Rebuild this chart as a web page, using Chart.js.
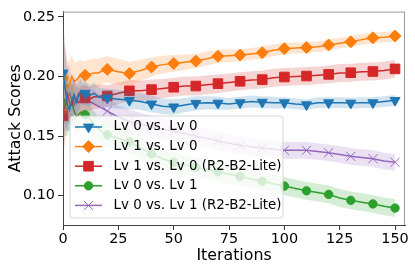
<!DOCTYPE html>
<html>
<head>
<meta charset="utf-8">
<script src="https://cdn.jsdelivr.net/npm/chart.js@4/dist/chart.umd.min.js"></script>
<style>
  body { margin: 0; background: #fff; }
  #box { width: 415px; height: 268px; }
</style>
</head>
<body>
<div id="box"><canvas id="myChart"></canvas></div>
<script>
let iterations = [0,1,2,3,4,5,6,7,8,9,10, 12,14,16,18,20,
  25,30,35,40,45,50,55,60,65,70,75,80,85,90,95,100,105,110,115,120,125,130,135,140,145,150];

let lv00 = [0.203,0.190,0.176,0.172,0.180,0.185,0.178,0.183,0.188,0.186,0.186,
  0.184,0.186,0.183,0.182,0.182,
  0.181,0.180,0.179,0.177,0.175,0.1745,0.176,0.1775,0.178,0.1777,0.177,0.178,0.179,0.1785,0.178,0.178,0.177,0.1763,0.178,0.178,0.178,0.1777,0.178,0.178,0.179,0.180];
let lv10 = [0.199,0.196,0.190,0.194,0.200,0.196,0.197,0.199,0.201,0.200,0.201,
  0.202,0.203,0.203,0.205,0.206,
  0.204,0.2025,0.205,0.208,0.210,0.211,0.212,0.213,0.215,0.217,0.2175,0.218,0.219,0.220,0.222,0.2234,0.224,0.2243,0.225,0.2265,0.228,0.2292,0.231,0.2325,0.233,0.234];
let lv10lite = [0.167,0.175,0.185,0.178,0.176,0.183,0.180,0.178,0.180,0.182,0.182,
  0.181,0.183,0.183,0.184,0.1837,
  0.186,0.188,0.188,0.189,0.190,0.191,0.192,0.192,0.193,0.194,0.195,0.196,0.197,0.1974,0.199,0.1996,0.200,0.2004,0.201,0.2018,0.203,0.2032,0.204,0.2042,0.205,0.2064];
let lv01 = [0.178,0.175,0.172,0.176,0.178,0.171,0.166,0.168,0.170,0.166,0.168,
  0.165,0.160,0.156,0.153,0.151,
  0.148,0.145,0.140,0.135,0.131,0.128,0.126,0.124,0.122,0.120,0.118,0.116,0.114,0.112,0.110,0.108,0.106,0.104,0.1025,0.101,0.098,0.096,0.0945,0.093,0.091,0.0895];
let lv01lite = [0.200,0.190,0.182,0.186,0.180,0.176,0.182,0.186,0.183,0.180,0.182,
  0.179,0.177,0.175,0.173,0.171,
  0.166,0.162,0.160,0.158,0.156,0.154,0.152,0.150,0.148,0.146,0.144,0.142,0.141,0.140,0.139,0.138,0.138,0.138,0.137,0.136,0.1345,0.133,0.132,0.131,0.129,0.128];

// half width of the shaded band at each iteration
let lv00_spread = [0.040,0.030,0.022,0.018,0.016,0.014,0.013,0.012,0.011,0.010,0.010,
  0.009,0.009,0.008,0.008,0.008,
  0.008,0.0075,0.007,0.007,0.0065,0.0065,0.006,0.006,0.0055,0.0055,0.005,0.005,0.005,0.005,0.005,0.0045,0.0045,0.0045,0.0045,0.0045,0.0045,0.0045,0.0045,0.0045,0.0045,0.0045];
let lv10_spread = [0.035,0.028,0.022,0.020,0.018,0.016,0.015,0.014,0.013,0.013,0.012,
  0.012,0.012,0.012,0.011,0.011,
  0.011,0.010,0.009,0.008,0.0075,0.007,0.0065,0.006,0.006,0.0055,0.0055,0.005,0.005,0.005,0.005,0.005,0.0045,0.0045,0.0045,0.0045,0.0045,0.0045,0.0045,0.0045,0.0045,0.0045];
let lv10lite_spread = [0.035,0.028,0.022,0.018,0.016,0.014,0.013,0.012,0.011,0.011,0.010,
  0.010,0.010,0.010,0.009,0.009,
  0.009,0.009,0.0085,0.0085,0.008,0.008,0.008,0.008,0.0078,0.0078,0.0075,0.0075,0.0075,0.0075,0.0075,0.0075,0.0075,0.0075,0.0075,0.0075,0.0075,0.0075,0.0075,0.0075,0.0075,0.0075];
let lv01_spread = [0.030,0.025,0.022,0.020,0.018,0.016,0.015,0.014,0.013,0.012,0.012,
  0.011,0.011,0.010,0.010,0.010,
  0.010,0.0095,0.009,0.009,0.0085,0.0085,0.008,0.008,0.008,0.008,0.008,0.0078,0.0078,0.0078,0.0075,0.0075,0.0075,0.0075,0.0075,0.0075,0.0075,0.0075,0.0075,0.0075,0.0075,0.0075];
let lv01lite_spread = [0.050,0.035,0.028,0.022,0.020,0.018,0.016,0.015,0.014,0.013,0.013,
  0.012,0.012,0.011,0.011,0.011,
  0.010,0.010,0.0095,0.009,0.009,0.0085,0.0085,0.008,0.008,0.008,0.0075,0.0075,0.0075,0.0072,0.0072,0.0072,0.007,0.007,0.007,0.007,0.007,0.007,0.007,0.007,0.007,0.007];

let series_labels = ['Lv 0 vs. Lv 0', 'Lv 1 vs. Lv 0', 'Lv 1 vs. Lv 0 (R2-B2-Lite)', 'Lv 0 vs. Lv 1', 'Lv 0 vs. Lv 1 (R2-B2-Lite)'];
let x_ticks = [0, 25, 50, 75, 100, 125, 150];
let y_ticks = [0.10, 0.15, 0.20, 0.25];

// styling per series (tab10 colours, matplotlib-like markers)
let styles = [
  {color: '#1f77b4', band: 'rgba(31,119,180,0.2)',  marker: 'triangle', rot: 180, r: 5.8},
  {color: '#ff7f0e', band: 'rgba(255,127,14,0.2)',  marker: 'rectRot',  rot: 0,   r: 6},
  {color: '#d62728', band: 'rgba(214,39,40,0.2)',   marker: 'rect',     rot: 0,   r: 6.8},
  {color: '#2ca02c', band: 'rgba(44,160,44,0.2)',   marker: 'circle',   rot: 0,   r: 4.2},
  {color: '#9467bd', band: 'rgba(148,103,189,0.2)', marker: 'crossRot', rot: 0,   r: 6.4}
];
let all_values = [lv00, lv10, lv10lite, lv01, lv01lite];
let all_spreads = [lv00_spread, lv10_spread, lv10lite_spread, lv01_spread, lv01lite_spread];

let font_family = "'DejaVu Sans', sans-serif";

function to_points(values, sign, spread){
  return iterations.map((it, i) => ({x: it, y: values[i] + sign * (spread ? spread[i] : 0)}))
}

let datasets = [];
all_values.forEach((values, s) => {
  let st = styles[s];
  datasets.push({   // lower edge of band
    data: to_points(values, -1, all_spreads[s]),
    borderWidth: 0, pointRadius: 0, fill: false
  });
  datasets.push({   // upper edge, filled down to the lower edge
    data: to_points(values, 1, all_spreads[s]),
    borderWidth: 0, pointRadius: 0, fill: '-1', backgroundColor: st.band
  });
  datasets.push({
    label: series_labels[s],
    data: to_points(values, 0),
    borderColor: st.color,
    backgroundColor: st.color,
    borderWidth: 1.5,
    tension: 0,
    fill: false,
    pointStyle: st.marker,
    pointRotation: st.rot,
    pointBorderWidth: 1,
    pointRadius: (c) => (c.raw && c.raw.x % 10 === 0) ? st.r : 0
  });
});

// legend drawn inside the plot, bottom left, like matplotlib's
const inside_legend = {
  id: 'insideLegend',
  afterDatasetsDraw(chart){
    let ctx = chart.ctx;
    let area = chart.chartArea;
    let x0 = area.left + 7, w = 213, h = 102;
    let y0 = area.bottom - 7 - h;
    ctx.save();
    ctx.beginPath();
    ctx.roundRect(x0, y0, w, h, 3);
    ctx.fillStyle = 'rgba(255,255,255,0.8)';
    ctx.fill();
    ctx.strokeStyle = 'rgba(204,204,204,0.8)';
    ctx.lineWidth = 1;
    ctx.stroke();
    ctx.font = '13.4px ' + font_family;
    ctx.textBaseline = 'middle';
    series_labels.forEach((label, i) => {
      let st = styles[i];
      let y = y0 + 11 + i * 19.6;
      ctx.strokeStyle = st.color;
      ctx.lineWidth = 1.5;
      ctx.beginPath();
      ctx.moveTo(x0 + 5, y);
      ctx.lineTo(x0 + 32, y);
      ctx.stroke();
      ctx.fillStyle = st.color;
      ctx.lineWidth = 1;
      Chart.helpers.drawPoint(ctx, {pointStyle: st.marker, rotation: st.rot, radius: st.r, borderWidth: 1}, x0 + 18.5, y);
      ctx.fillStyle = '#000';
      ctx.fillText(label, x0 + 43.5, y);
    });
    ctx.restore();
  },
  afterDraw(chart){   // top and right frame lines
    let ctx = chart.ctx;
    let a = chart.chartArea;
    ctx.save();
    ctx.lineWidth = 1;
    ctx.strokeStyle = '#999';
    ctx.beginPath();
    ctx.moveTo(a.left, a.top + 0.5);
    ctx.lineTo(a.right, a.top + 0.5);
    ctx.moveTo(a.right - 0.5, a.top);
    ctx.lineTo(a.right - 0.5, a.bottom);
    ctx.stroke();
    ctx.restore();
  }
};

let ctx = document.getElementById('myChart').getContext('2d');
let chart = new Chart(ctx, {
  type: 'line',
  data: { datasets: datasets },
  options: {
    responsive: true,
    maintainAspectRatio: false,
    animation: false,
    layout: { padding: { top: 7, right: 10, left: 0, bottom: 0 } },
    plugins: {
      legend: { display: false },
      tooltip: { enabled: false }
    },
    scales: {
      x: {
        type: 'linear',
        min: 0, max: 154.5,
        afterFit: (s) => { s.height = 43 },
        afterBuildTicks: (s) => { s.ticks = x_ticks.map(v => ({value: v})) },
        ticks: { color: '#000', font: { family: font_family, size: 14.4 }, padding: 1, maxRotation: 0, autoSkip: false,
                 callback: (v) => String(v) },
        grid: { drawOnChartArea: false, drawTicks: true, tickLength: 5, tickColor: '#333' },
        border: { display: true, color: '#444' },
        title: { display: true, text: 'Iterations', color: '#000',
                 font: { family: font_family, size: 15.8 }, padding: { top: 0, bottom: 3 } }
      },
      y: {
        min: 0.0753, max: 0.2545,
        afterFit: (s) => { s.width = 63 },
        afterBuildTicks: (s) => { s.ticks = y_ticks.map(v => ({value: v})) },
        ticks: { color: '#000', font: { family: font_family, size: 14.4 }, padding: 3,
                 callback: (v) => v.toFixed(2) },
        grid: { drawOnChartArea: false, drawTicks: true, tickLength: 5, tickColor: '#333' },
        border: { display: true, color: '#444' },
        title: { display: true, text: 'Attack Scores', color: '#000',
                 font: { family: font_family, size: 15.8 }, padding: { top: 6, bottom: 0 } }
      }
    }
  },
  plugins: [inside_legend]
});
</script>
</body>
</html>
